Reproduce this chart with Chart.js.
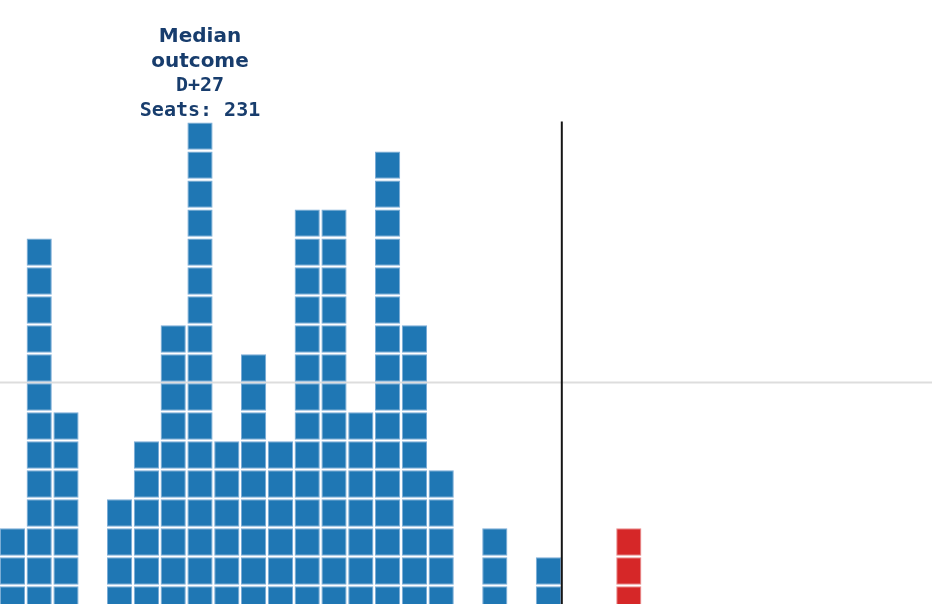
<!DOCTYPE html>
<html>
<head>
<meta charset="utf-8">
<script src="https://cdn.jsdelivr.net/npm/chart.js@4/dist/chart.umd.min.js"></script>
<style>
  html, body { margin: 0; padding: 0; background: #fff; }
  #wrap { width: 932px; height: 604px; position: relative; }
</style>
</head>
<body>
<div id="wrap"><canvas id="c"></canvas></div>
<script>
// ---------- DATA ----------
// squares stacked per column (left to right)
const colHeights = [3, 13, 7, 0, 4, 6, 10, 17, 6, 9, 6, 14, 14, 7, 16, 10, 5, 0, 3, 0, 2, 0, 0, 3];
// which side of the majority line each column sits on
const colParty   = ['D','D','D','D','D','D','D','D','D','D','D','D','D','D','D','D','D','D','D','D','D','D','D','R'];
const medianCol = 7;
const medianLines = ['Median', 'outcome', 'D+27', 'Seats: 231'];
const majorityX = 20.5;
const majorityTop = 17;
const refY = 8;

const PARTY_FILL = { D: '#1f77b4', R: '#d62728' };
const PARTY_EDGE = { D: '#79abd6', R: '#e88a8b' };

// one floating bar per square
const squares = [];
colHeights.forEach((h, i) => {
  for (let k = 0; k < h; k++) squares.push({ x: i, y: [k + 0.03, k + 0.97], party: colParty[i] });
});

const overlay = {
  id: 'overlay',
  beforeDatasetsDraw(chart) {
    const { ctx, chartArea: a, scales: { y } } = chart;
    const py = y.getPixelForValue(refY);
    ctx.save();
    ctx.strokeStyle = '#dddddd'; ctx.lineWidth = 2;
    ctx.beginPath(); ctx.moveTo(a.left, py); ctx.lineTo(a.right, py); ctx.stroke();
    ctx.restore();
  },
  afterDatasetsDraw(chart) {
    const { ctx, chartArea: a, scales: { x, y } } = chart;
    ctx.save();
    // majority line
    const px = x.getPixelForValue(majorityX);
    ctx.strokeStyle = '#151515'; ctx.lineWidth = 2;
    ctx.beginPath(); ctx.moveTo(px, y.getPixelForValue(majorityTop)); ctx.lineTo(px, a.bottom); ctx.stroke();
    // median label
    const cx = x.getPixelForValue(medianCol);
    const base = y.getPixelForValue(colHeights[medianCol]) - 6;
    ctx.fillStyle = '#183d6d';
    ctx.textAlign = 'center'; ctx.textBaseline = 'alphabetic';
    medianLines.forEach((t, i) => {
      ctx.font = i < 2 ? 'bold 20px "DejaVu Sans"' : 'bold 20px "DejaVu Sans Mono"';
      ctx.fillText(t, cx, base - (medianLines.length - 1 - i) * 24.5);
    });
    ctx.restore();
  }
};

new Chart(document.getElementById('c'), {
  type: 'bar',
  data: {
    datasets: [{
      data: squares,
      grouped: false,
      backgroundColor: c => PARTY_FILL[c.raw ? c.raw.party : 'D'],
      borderColor: c => PARTY_EDGE[c.raw ? c.raw.party : 'D'],
      borderWidth: 1,
      borderSkipped: false,
      barPercentage: 0.94,
      categoryPercentage: 1
    }]
  },
  options: {
    responsive: true,
    maintainAspectRatio: false,
    animation: false,
    layout: { padding: 0 },
    plugins: { legend: { display: false }, tooltip: { enabled: false } },
    scales: {
      x: { type: 'linear', offset: false, min: -0.4627, max: 34.313, display: false, ticks: { stepSize: 1 } },
      y: { min: 0.362, max: 21.19, display: false }
    }
  },
  plugins: [overlay]
});
</script>
</body>
</html>
